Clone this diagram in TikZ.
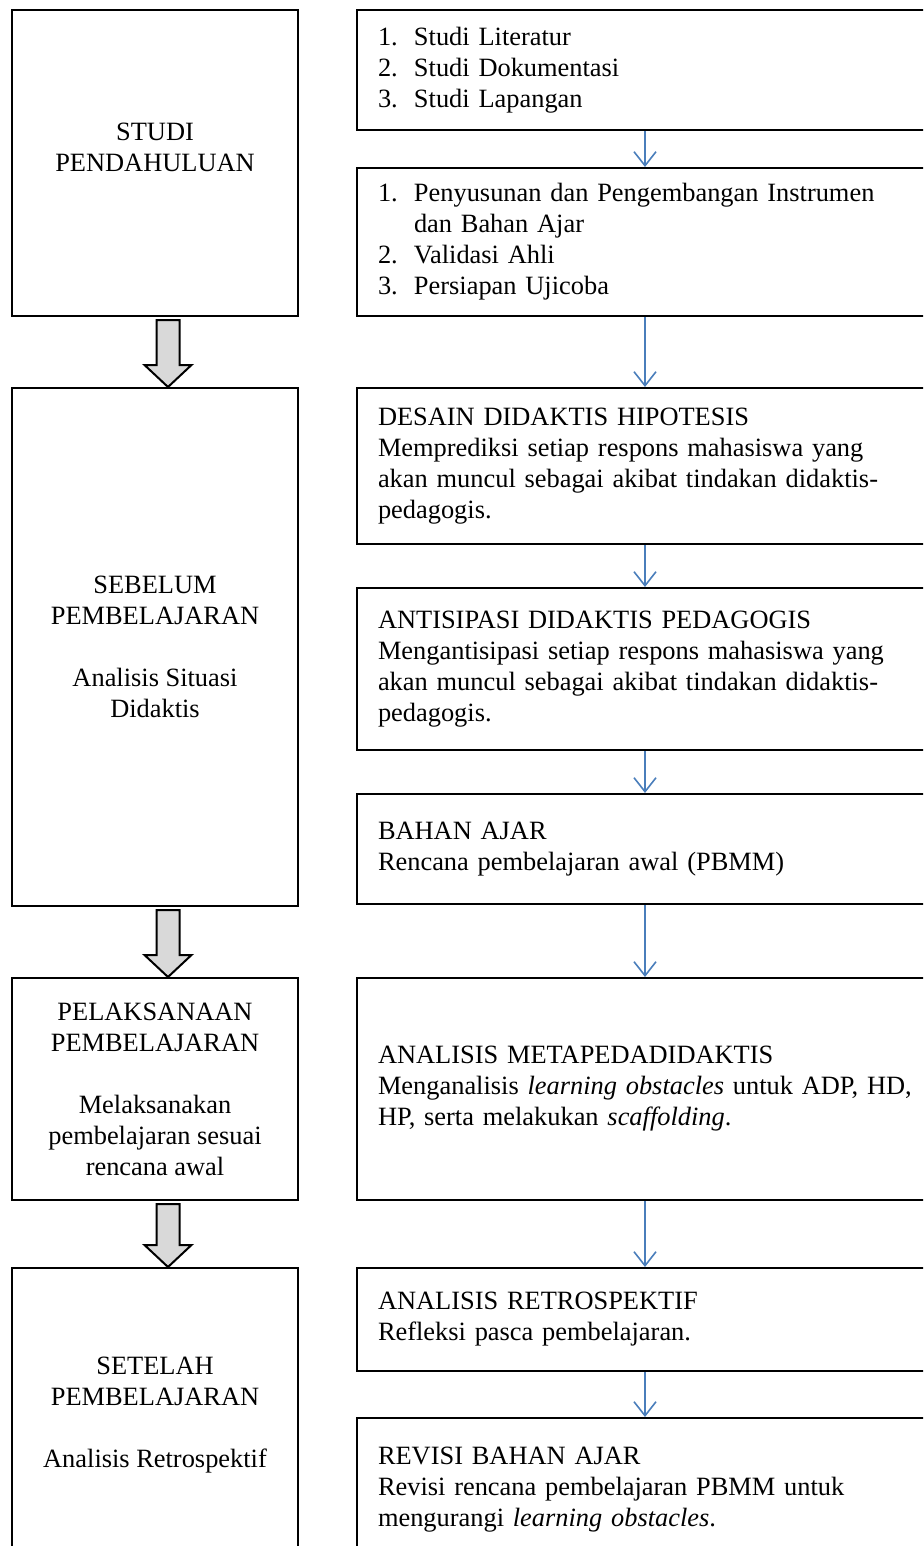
\documentclass[tikz,border=0pt]{standalone}
\usepackage{fontspec}
\setmainfont{Liberation Serif}
\usepackage{tikz}
\usetikzlibrary{arrows.meta,calc}
\definecolor{arrowblue}{RGB}{74,126,187}
\definecolor{arrowgray}{RGB}{217,217,217}
\setlength{\parindent}{0pt}

\begin{document}
\begin{tikzpicture}[
x=0.5pt,y=-0.5pt,
font=\fontsize{13.2}{15.5}\selectfont,
stage/.style={draw,line width=1pt,align=center,minimum width=143pt},
task/.style={draw,line width=1pt,text width=267pt,inner xsep=10.5pt,align=left},
flow/.style={-{Straight Barb[length=7pt,width=11pt]},draw=arrowblue,line width=0.8pt},
bigarrow/.style={draw,line width=1pt,fill=arrowgray}]
    % Frame
    \useasboundingbox (0,0) rectangle (923,1546);
    \clip (0,0) rectangle (923,1546);

    % Stages
    \node[stage,minimum height=153pt] (l1) at (155,163) {STUDI\\PENDAHULUAN\\~};
    \node[stage,minimum height=259pt] (l2) at (155,647)
        {SEBELUM\\PEMBELAJARAN\\[15.5pt]Analisis Situasi\\Didaktis};
    \node[stage,minimum height=111pt] (l3) at (155,1089)
        {PELAKSANAAN\\PEMBELAJARAN\\[15.5pt]Melaksanakan\\pembelajaran sesuai\\rencana awal};
    \node[stage,minimum height=147pt] (l4) at (155,1415)
        {SETELAH\\PEMBELAJARAN\\[15.5pt]Analisis Retrospektif};

    % Activities
    \node[task,minimum height=60pt] (r1) at (645,70)
        {\makebox[18pt][l]{1.}Studi Literatur\\
         \makebox[18pt][l]{2.}Studi Dokumentasi\\
         \makebox[18pt][l]{3.}Studi Lapangan};
    \node[task,minimum height=74pt] (r2) at (645,242)
        {\makebox[18pt][l]{1.}Penyusunan dan Pengembangan Instrumen\\
         \hspace*{18pt}dan Bahan Ajar\\
         \makebox[18pt][l]{2.}Validasi Ahli\\
         \makebox[18pt][l]{3.}Persiapan Ujicoba};
    \node[task,minimum height=78pt] (r3) at (645,466)
        {DESAIN DIDAKTIS HIPOTESIS\\
         \mbox{Memprediksi setiap respons mahasiswa yang}\\
         \mbox{akan muncul sebagai akibat tindakan didaktis-}\\
         pedagogis.};
    \node[task,minimum height=81pt] (r4) at (645,669)
        {ANTISIPASI DIDAKTIS PEDAGOGIS\\
         \mbox{Mengantisipasi setiap respons mahasiswa yang}\\
         \mbox{akan muncul sebagai akibat tindakan didaktis-}\\
         pedagogis.};
    \node[task,minimum height=55pt] (r5) at (645,849)
        {BAHAN AJAR\\Rencana pembelajaran awal (PBMM)};
    \node[task,minimum height=111pt] (r6) at (645,1089)
        {ANALISIS METAPEDADIDAKTIS\\
         \mbox{Menganalisis \textit{learning obstacles} untuk ADP, HD,}\\
         HP, serta melakukan \textit{scaffolding}.};
    \node[task,minimum height=51.5pt] (r7) at (645,1319.5)
        {ANALISIS RETROSPEKTIF\\Refleksi pasca pembelajaran.};
    \node[task,minimum height=72pt] (r8) at (645,1490)
        {REVISI BAHAN AJAR\\
         \mbox{Revisi rencana pembelajaran PBMM untuk}\\
         mengurangi \textit{learning obstacles}.};

    % Arrows
    \foreach \up/\down in {l1/l2,l2/l3,l3/l4}
        \draw[bigarrow] let \p1=($(\up.south)+(13,3)$), \p2=($(\down.north)+(13,0)$) in
            (\x1-5.75pt,\y1) -- (\x1+5.75pt,\y1) -- (\x1+5.75pt,\y2+11pt)
            -- (\x1+11.75pt,\y2+11pt) -- (\x2,\y2) -- (\x1-11.75pt,\y2+11pt)
            -- (\x1-5.75pt,\y2+11pt) -- cycle;
    \foreach \up/\down in {r1/r2,r2/r3,r3/r4,r4/r5,r5/r6,r6/r7,r7/r8}
        \draw[flow] (\up) -- (\down);
\end{tikzpicture}
\end{document}
